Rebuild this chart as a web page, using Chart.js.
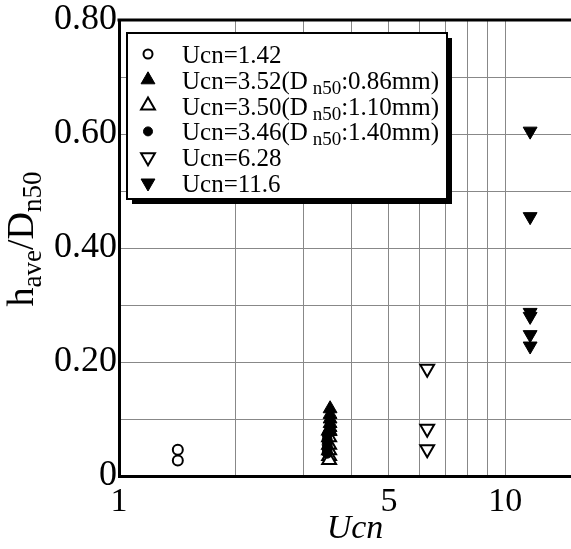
<!DOCTYPE html>
<html lang="en">
<head>
    <meta charset="UTF-8">
    <title>h_ave/D_n50 vs Ucn</title>
    <script src="https://cdn.jsdelivr.net/npm/chart.js"></script>
    <style>
        html, body { margin: 0; padding: 0; background: #fff; }
        #wrap { width: 571px; height: 549px; }
    </style>
</head>
<body>
    <div id="wrap"><canvas id="chart" width="571" height="549"></canvas></div>
    <script>
        // measured h_ave / D_n50 for each gradation
        const ucn142 = 1.42, ratio142 = [0.046, 0.027];
        const ucn352 = 3.52, ratio352 = [0.118, 0.108, 0.100, 0.092, 0.085, 0.078];
        const ucn350 = 3.50, ratio350 = [0.080, 0.068, 0.055, 0.045, 0.035, 0.028];
        const ucn346 = 3.46, ratio346 = [0.072, 0.063, 0.055, 0.047, 0.040];
        const ucn628 = 6.28, ratio628 = [0.188, 0.083, 0.047];
        const ucn116 = 11.6, ratio116 = [0.605, 0.455, 0.287, 0.280, 0.248, 0.228];

        const xTickLabels = [1, 5, 10];
        const yTickLabels = [0, 0.2, 0.4, 0.6, 0.8];

        const serif = "'Liberation Serif', 'Times New Roman', serif";

        function pts(x, ys) { return ys.map(y => ({ x: x, y: y })); }

        // legend entries: [main text, subscript, rest]; z = draw order (lower on top)
        const series = [
            { label: ['Ucn=1.42'], x: ucn142, y: ratio142, style: 'circle', fill: false, r: 5, rot: 0, z: 0 },
            { label: ['Ucn=3.52(D', ' n50', ':0.86mm)'], x: ucn352, y: ratio352, style: 'triangle', fill: true, r: 8, rot: 0, z: 1 },
            { label: ['Ucn=3.50(D', ' n50', ':1.10mm)'], x: ucn350, y: ratio350, style: 'triangle', fill: false, r: 8, rot: 0, z: 2 },
            { label: ['Ucn=3.46(D', ' n50', ':1.40mm)'], x: ucn346, y: ratio346, style: 'circle', fill: true, r: 5, rot: 0, z: -1 },
            { label: ['Ucn=6.28'], x: ucn628, y: ratio628, style: 'triangle', fill: false, r: 8, rot: 180, z: 0 },
            { label: ['Ucn=11.6'], x: ucn116, y: ratio116, style: 'triangle', fill: true, r: 8, rot: 180, z: 0 }
        ];

        const datasets = series.map(s => ({
            label: s.label.join(''),
            data: pts(s.x, s.y),
            order: s.z,
            pointStyle: s.style,
            pointRotation: s.rot,
            pointRadius: s.r,
            pointBackgroundColor: s.fill ? '#000' : '#fff',
            pointBorderColor: '#000',
            pointBorderWidth: s.fill ? 1 : 2
        }));

        function drawLegendMarker(ctx, s, x, y) {
            ctx.save();
            ctx.fillStyle = s.fill ? '#000' : '#fff';
            ctx.strokeStyle = '#000';
            ctx.lineWidth = s.fill ? 1 : 2;
            Chart.helpers.drawPoint(ctx, {
                pointStyle: s.style,
                rotation: s.rot,
                radius: s.style === 'circle' ? 4.5 : 8,
                borderWidth: ctx.lineWidth
            }, x, y);
            ctx.restore();
        }

        // frame top line, legend box and both axis titles
        const decor = {
            id: 'decor',
            afterDraw(chart) {
                const ctx = chart.ctx, a = chart.chartArea;
                ctx.save();
                ctx.strokeStyle = '#000';
                ctx.lineWidth = 3;
                ctx.beginPath();
                ctx.moveTo(a.left - 1.5, a.top);
                ctx.lineTo(a.right, a.top);
                ctx.stroke();

                // legend
                const bx = 127, by = 33, bw = 320, bh = 166;
                ctx.fillStyle = '#000';
                ctx.fillRect(bx + 5, by + 5, bw, bh);
                ctx.fillStyle = '#fff';
                ctx.fillRect(bx, by, bw, bh);
                ctx.lineWidth = 2;
                ctx.strokeRect(bx, by, bw, bh);

                series.forEach((s, i) => {
                    const cy = 54 + i * 25.8;
                    drawLegendMarker(ctx, s, 148, cy);
                    ctx.fillStyle = '#000';
                    ctx.textBaseline = 'alphabetic';
                    ctx.textAlign = 'left';
                    let tx = 182;
                    const base = cy + 9;
                    ctx.font = '25px ' + serif;
                    ctx.fillText(s.label[0], tx, base);
                    tx += ctx.measureText(s.label[0]).width;
                    if (s.label.length > 1) {
                        ctx.font = '19px ' + serif;
                        ctx.fillText(s.label[1], tx, base + 5);
                        tx += ctx.measureText(s.label[1]).width;
                        ctx.font = '25px ' + serif;
                        ctx.fillText(s.label[2], tx, base);
                    }
                });

                // x title
                ctx.fillStyle = '#000';
                ctx.font = 'italic 34px ' + serif;
                ctx.textAlign = 'center';
                ctx.textBaseline = 'alphabetic';
                ctx.fillText('Ucn', 355, 538);

                // y title, rotated
                ctx.translate(33, 239);
                ctx.rotate(-Math.PI / 2);
                const parts = [['h', 38, 0], ['ave', 27, 8], ['/D', 38, 0], ['n50', 27, 8]];
                let w = 0;
                parts.forEach(p => { ctx.font = p[1] + 'px ' + serif; w += ctx.measureText(p[0]).width; });
                let px = -w / 2;
                ctx.textAlign = 'left';
                parts.forEach(p => {
                    ctx.font = p[1] + 'px ' + serif;
                    ctx.fillText(p[0], px, p[2]);
                    px += ctx.measureText(p[0]).width;
                });
                ctx.restore();
            }
        };

        new Chart(document.getElementById('chart'), {
            type: 'scatter',
            data: { datasets: datasets },
            options: {
                responsive: false,
                animation: false,
                layout: { autoPadding: false, padding: { top: 20, right: 0, left: 0, bottom: 0 } },
                plugins: { legend: { display: false }, tooltip: { enabled: false } },
                scales: {
                    x: {
                        type: 'logarithmic',
                        min: 1,
                        max: 14.8,
                        afterBuildTicks(scale) {
                            scale.ticks = [1, 2, 3, 4, 5, 6, 7, 8, 9, 10].map(v => ({ value: v }));
                        },
                        afterFit(scale) {
                            scale.height = 73;
                            scale.paddingLeft = 0;
                            scale.paddingRight = 0;
                        },
                        grid: { color: '#888', lineWidth: 1, drawTicks: false },
                        border: { color: '#000', width: 3 },
                        ticks: {
                            autoSkip: false,
                            maxRotation: 0,
                            padding: 6,
                            color: '#000',
                            font: { family: serif, size: 34 },
                            callback: v => xTickLabels.includes(v) ? String(v) : ''
                        }
                    },
                    y: {
                        min: 0,
                        max: 0.8,
                        afterFit(scale) {
                            scale.width = 119;
                            scale.paddingTop = 0;
                            scale.paddingBottom = 0;
                        },
                        grid: { color: '#888', lineWidth: 1, drawTicks: false },
                        border: { color: '#000', width: 3 },
                        ticks: {
                            stepSize: 0.1,
                            padding: 2,
                            color: '#000',
                            font: { family: serif, size: 36 },
                            callback: v => {
                                const hit = yTickLabels.find(t => Math.abs(t - v) < 1e-6);
                                if (hit === undefined) return '';
                                return hit === 0 ? '0' : hit.toFixed(2);
                            }
                        }
                    }
                }
            },
            plugins: [decor]
        });
    </script>
</body>
</html>
